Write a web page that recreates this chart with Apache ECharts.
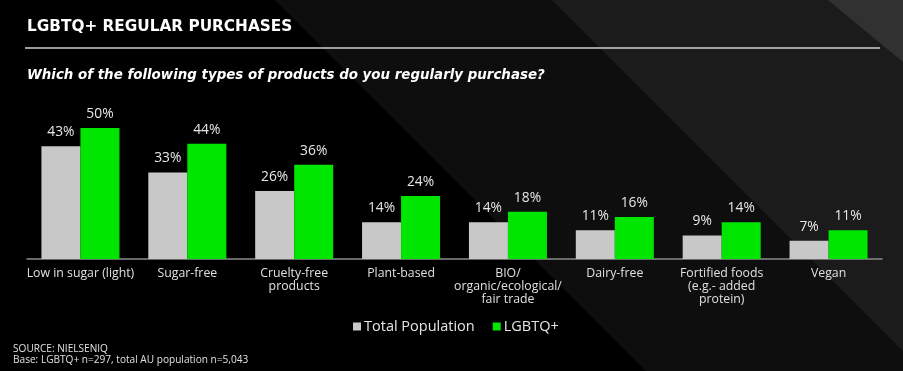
<!DOCTYPE html>
<html>
<head>
<meta charset="utf-8">
<script src="https://cdn.jsdelivr.net/npm/echarts@6/dist/echarts.min.js"></script>
<style>
html,body{margin:0;padding:0;background:#000;}
#main{width:903px;height:371px;}
</style>
</head>
<body>
<div id="main"></div>
<script>
var categories = ['Low in sugar (light)', 'Sugar-free', 'Cruelty-free\nproducts', 'Plant-based', 'BIO/\norganic/ecological/\nfair trade', 'Dairy-free', 'Fortified foods\n(e.g.- added\nprotein)', 'Vegan'];
var totalPopulation = [43, 33, 26, 14, 14, 11, 9, 7];
var lgbtq = [50, 44, 36, 24, 18, 16, 14, 11];
var seriesNames = ['Total Population', 'LGBTQ+'];

var FONT = 'Open Sans';
var HEAD = 'DejaVu Sans';
var chart = echarts.init(document.getElementById('main'));
chart.setOption({
  backgroundColor: '#000',
  animation: false,
  graphic: [
    {type: 'polygon', z: -10, silent: true, shape: {points: [[275,0],[903,0],[903,371],[646,371]]}, style: {fill: '#0e0e0e'}},
    {type: 'polygon', z: -9, silent: true, shape: {points: [[552,0],[903,0],[903,351]]}, style: {fill: '#1b1b1b'}},
    {type: 'polygon', z: -8, silent: true, shape: {points: [[828,0],[903,0],[903,62]]}, style: {fill: '#313131'}},
    {type: 'line', z: 5, silent: true, shape: {x1: 25, y1: 48, x2: 880, y2: 48}, style: {stroke: '#d0d0d0', lineWidth: 1.5}}
  ],
  title: [
    {text: 'LGBTQ+ REGULAR PURCHASES', left: 27, top: 20, padding: 0, textStyle: {color: '#ffffff', fontFamily: HEAD, fontWeight: 'bold', fontSize: 15.3}},
    {text: 'Which of the following types of products do you regularly purchase?', left: 27, top: 69, padding: 0, textStyle: {color: '#ffffff', fontFamily: HEAD, fontWeight: 'bold', fontStyle: 'italic', fontSize: 13.4}},
    {text: 'SOURCE: NIELSENIQ\nBase: LGBTQ+ n=297, total AU population n=5,043', left: 13, top: 343, padding: 0, textStyle: {color: '#e0e0e0', fontFamily: FONT, fontWeight: 'normal', fontSize: 10.1, lineHeight: 11.5}}
  ],
  legend: {
    data: seriesNames,
    left: 353, top: 319, padding: 0,
    itemWidth: 8, itemHeight: 8, itemGap: 18,
    icon: 'rect',
    textStyle: {color: '#e6e6e6', fontFamily: FONT, fontSize: 14.5, padding: [0,0,0,-2]}
  },
  grid: {left: 27, right: 21, top: 128, bottom: 112, containLabel: false},
  xAxis: {
    type: 'category',
    data: categories,
    axisLine: {lineStyle: {color: '#8a8a8a', width: 1.5}},
    axisTick: {show: false},
    axisLabel: {color: '#e0e0e0', fontFamily: FONT, fontSize: 12.3, lineHeight: 13, margin: 8, interval: 0}
  },
  yAxis: {type: 'value', min: 0, max: 50, show: false, splitLine: {show: false}},
  series: [
    {name: seriesNames[0], type: 'bar', data: totalPopulation, barGap: '0%', barCategoryGap: '27%',
     itemStyle: {color: '#c8c8c8'},
     label: {show: true, position: 'top', distance: 7, formatter: '{c}%', color: '#e6e6e6', fontFamily: FONT, fontSize: 13.8}},
    {name: seriesNames[1], type: 'bar', data: lgbtq, barGap: '0%', barCategoryGap: '27%',
     itemStyle: {color: '#00e600'},
     label: {show: true, position: 'top', distance: 7, formatter: '{c}%', color: '#e6e6e6', fontFamily: FONT, fontSize: 13.8}}
  ]
});
</script>
</body>
</html>
